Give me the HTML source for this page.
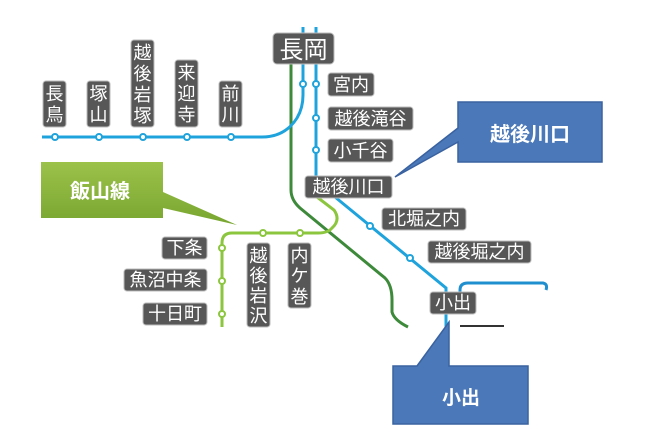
<!DOCTYPE html>
<html><head><meta charset="utf-8"><style>
html,body{margin:0;padding:0;background:#fff;}
svg{display:block;}
text{font-family:"Liberation Sans","Noto Sans CJK JP",sans-serif;}
.lb{fill:#575757;stroke:#bbb;stroke-width:1;}
.t{fill:#fff;font-size:18px;}
</style></head><body>
<svg width="650" height="443" viewBox="0 0 650 443" xmlns="http://www.w3.org/2000/svg">
<defs>
<linearGradient id="g" x1="0" y1="0" x2="0" y2="1"><stop offset="0" stop-color="#9cc24a"/><stop offset="1" stop-color="#78a630"/></linearGradient>
</defs>
<path d="M291,63 V190 Q291,200 300,208 L385,278 Q392,285 392,300 V312 Q394,320 408,327" fill="none" stroke="#3d8a3a" stroke-width="3"/>
<path d="M42,137 H262 Q285,137 297,118 Q303,108 303,95 V27" fill="none" stroke="#1fa3dc" stroke-width="3"/>
<path d="M316,27 V178" fill="none" stroke="#1fa3dc" stroke-width="3"/>
<path d="M335,197 L446,288 V330" fill="none" stroke="#1fa3dc" stroke-width="3"/>
<path d="M460,300 V290 Q460,283 468,283 H543 Q548,284 546,290" fill="none" stroke="#1f8fcf" stroke-width="3"/>
<path d="M317,197 L334,210 Q341,220 332,228 Q328,233 318,233 H232 Q222,233 222,243 V327" fill="none" stroke="#8cc63f" stroke-width="3"/>
<line x1="460" y1="326" x2="504" y2="326" stroke="#333" stroke-width="2"/>
<g fill="#fff" stroke="#1fa3dc" stroke-width="2">
<circle cx="55" cy="137" r="3"/><circle cx="99" cy="137" r="3"/><circle cx="143" cy="137" r="3"/><circle cx="187" cy="137" r="3"/><circle cx="231" cy="137" r="3"/>
<circle cx="303" cy="84" r="3"/><circle cx="316" cy="84" r="3"/><circle cx="316" cy="118" r="3"/><circle cx="316" cy="150" r="3"/>
<circle cx="370" cy="226" r="3"/><circle cx="410" cy="258" r="3"/>
</g>
<g fill="#fff" stroke="#8cc63f" stroke-width="2">
<circle cx="263" cy="233" r="3"/><circle cx="300" cy="233" r="3"/><circle cx="222" cy="248" r="3"/><circle cx="222" cy="281" r="3"/><circle cx="222" cy="314" r="3"/>
</g>
<path d="M458,102 H602 V162 H458 V142 L395,177 L458,128 Z" fill="#4a78b8" stroke="#3a62a0" stroke-width="1.5"/>
<text x="530" y="141" text-anchor="middle" fill="#fff" font-size="20" font-weight="bold">越後川口</text>
<path d="M393,366 H417 L449,322 V366 H528 V424 H393 Z" fill="#4a78b8" stroke="#3a62a0" stroke-width="1.5"/>
<text x="461" y="404" text-anchor="middle" fill="#fff" font-size="19" font-weight="bold">小出</text>
<path d="M41,162 H163 V192 L237,225 L163,208 V218 H41 Z" fill="url(#g)"/>
<text x="100" y="198" text-anchor="middle" fill="#fff" font-size="20" font-weight="bold">飯山線</text>
<rect class="lb" x="273" y="33" width="61" height="31" rx="4"/><text x="303.5" y="58" text-anchor="middle" fill="#fff" font-size="24">長岡</text>
<g class="t">
<rect class="lb" x="328" y="73" width="46" height="23" rx="3"/><text x="351" y="91" text-anchor="middle">宮内</text>
<rect class="lb" x="328" y="107" width="85" height="23" rx="3"/><text x="370.5" y="125" text-anchor="middle">越後滝谷</text>
<rect class="lb" x="328" y="139" width="65" height="23" rx="3"/><text x="360.5" y="157" text-anchor="middle">小千谷</text>
<rect class="lb" x="305" y="176" width="87" height="22" rx="3"/><text x="348.5" y="193" text-anchor="middle">越後川口</text>
<rect class="lb" x="382" y="208" width="84" height="22" rx="3"/><text x="424" y="225" text-anchor="middle">北堀之内</text>
<rect class="lb" x="428" y="241" width="103" height="22" rx="3"/><text x="479.5" y="258" text-anchor="middle">越後堀之内</text>
<rect class="lb" x="430" y="292" width="46" height="22" rx="3"/><text x="453" y="309" text-anchor="middle">小出</text>
<rect class="lb" x="162" y="237" width="45" height="22" rx="3"/><text x="184.5" y="254" text-anchor="middle">下条</text>
<rect class="lb" x="124" y="269" width="83" height="22" rx="3"/><text x="165.5" y="286" text-anchor="middle">魚沼中条</text>
<rect class="lb" x="143" y="303" width="64" height="22" rx="3"/><text x="175" y="320" text-anchor="middle">十日町</text>
</g>
<g class="t" text-anchor="middle">
<rect class="lb" x="43" y="81" width="23" height="46" rx="3"/><text x="54.5" y="100">長</text><text x="54.5" y="121">鳥</text>
<rect class="lb" x="87" y="81" width="23" height="46" rx="3"/><text x="98.5" y="100">塚</text><text x="98.5" y="121">山</text>
<rect class="lb" x="131" y="40" width="23" height="87" rx="3"/><text x="142.5" y="59">越</text><text x="142.5" y="80">後</text><text x="142.5" y="101">岩</text><text x="142.5" y="122">塚</text>
<rect class="lb" x="175" y="60" width="23" height="67" rx="3"/><text x="186.5" y="79">来</text><text x="186.5" y="100">迎</text><text x="186.5" y="121">寺</text>
<rect class="lb" x="219" y="81" width="23" height="46" rx="3"/><text x="230.5" y="100">前</text><text x="230.5" y="121">川</text>
<rect class="lb" x="247" y="243" width="23" height="84" rx="3"/><text x="258.5" y="262">越</text><text x="258.5" y="282">後</text><text x="258.5" y="302">岩</text><text x="258.5" y="322">沢</text>
<rect class="lb" x="288" y="243" width="23" height="65" rx="3"/><text x="299.5" y="262">内</text><text x="299.5" y="282">ケ</text><text x="299.5" y="303">巻</text>
</g>
</svg>
</body></html>
